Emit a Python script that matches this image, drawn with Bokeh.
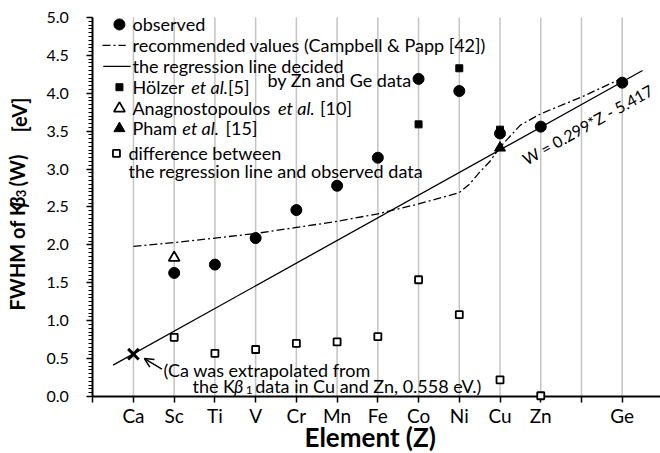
import math

from bokeh.plotting import figure
from bokeh.models import (Label, Arrow, OpenHead, Range1d, FixedTicker, LinearAxis,
                          SingleIntervalTicker, PrintfTickFormatter)
from bokeh.embed import file_html
from bokeh.resources import INLINE

FONT = "Lato"

# ---- data -------------------------------------------------------------
element_z = [20, 21, 22, 23, 24, 25, 26, 27, 28, 29, 30, 31, 32]
element_sym = ["Ca", "Sc", "Ti", "V", "Cr", "Mn", "Fe", "Co", "Ni", "Cu", "Zn", "", "Ge"]

# observed FWHM of K-beta3 (eV)
obs_z = [21, 22, 23, 24, 25, 26, 27, 28, 29, 30, 32]
obs_w = [1.63, 1.74, 2.09, 2.46, 2.78, 3.15, 4.19, 4.03, 3.47, 3.56, 4.14]

# Hölzer et al. [5]
holzer_z = [27, 28, 29]
holzer_w = [3.59, 4.33, 3.52]

# Anagnostopoulos et al. [10]
anag_z = [21]
anag_w = [1.83]

# Pham et al. [15]
pham_z = [29]
pham_w = [3.28]

# difference between regression line and observed data
diff_z = [21, 22, 23, 24, 25, 26, 27, 28, 29, 30]
diff_w = [0.78, 0.57, 0.62, 0.70, 0.72, 0.79, 1.54, 1.08, 0.22, 0.01]

# Ca, extrapolated from K-beta1 data in Cu and Zn
ca_z = [20]
ca_w = [0.558]

# recommended values (Campbell & Papp [42])
rec_z = [20, 21, 22, 23, 24, 25, 26, 27, 28, 28.25, 28.5, 28.75, 29, 29.5, 30, 31, 32]
rec_w = [1.98, 2.03, 2.09, 2.15, 2.23, 2.31, 2.41, 2.54, 2.69, 2.80, 2.96, 3.10, 3.29,
         3.58, 3.73, 3.95, 4.20]

# regression line decided by Zn and Ge data: W = 0.299*Z - 5.417
reg_slope = 0.299
reg_intercept = -5.417
reg_z = [19.5, 32.5]
reg_w = [reg_slope * z + reg_intercept for z in reg_z]

# ---- figure -----------------------------------------------------------
# The frame spans the whole canvas; the axes sit at Z = 19 and W = 0 so that
# the titles and notes around them can be drawn as ordinary labels.
X0, X1 = 16.736, 32.94
Y0, Y1 = -0.752, 5.224
W_PX, H_PX = 660, 453

p = figure(width=W_PX, height=H_PX, output_backend="svg", toolbar_location=None,
           x_range=Range1d(X0, X1), y_range=Range1d(Y0, Y1),
           x_axis_location=None, y_axis_location=None, min_border=0)
p.outline_line_color = None
p.background_fill_color = "white"
p.border_fill_color = "white"
p.grid.visible = False

# x axis: one tick per element, labelled with its symbol
xaxis = LinearAxis(fixed_location=0, bounds=(19, 33))
xaxis.ticker = FixedTicker(ticks=list(range(19, 34)))
overrides = {19: "", 33: ""}
overrides.update({z: s for z, s in zip(element_z, element_sym)})
xaxis.major_label_overrides = overrides
xaxis.major_label_text_font = FONT
xaxis.major_label_text_font_size = "19px"
xaxis.major_label_text_color = "black"
xaxis.major_label_standoff = 2
xaxis.axis_line_width = 2
xaxis.axis_line_color = "black"
xaxis.major_tick_in = 0
xaxis.major_tick_out = 6
xaxis.major_tick_line_width = 1.5
xaxis.minor_tick_line_color = None
p.add_layout(xaxis, "below")

# y axis
yaxis = LinearAxis(fixed_location=19, bounds=(0, 5))
yaxis.ticker = SingleIntervalTicker(interval=0.5, num_minor_ticks=10)
yaxis.formatter = PrintfTickFormatter(format="%.1f")
yaxis.major_label_text_font = FONT
yaxis.major_label_text_font_size = "16px"
yaxis.major_label_text_color = "black"
yaxis.major_label_standoff = 18
yaxis.axis_line_width = 2
yaxis.axis_line_color = "black"
yaxis.major_tick_in = 0
yaxis.major_tick_out = 6
yaxis.major_tick_line_width = 1.5
yaxis.minor_tick_in = 0
yaxis.minor_tick_out = 4
yaxis.minor_tick_line_width = 1.2
yaxis.minor_tick_line_color = "black"
p.add_layout(yaxis, "left")

# vertical grid lines at each element
p.segment(x0=element_z, y0=0, x1=element_z, y1=5, line_color="#c4c4c4", line_width=1.5)

# ---- series -----------------------------------------------------------
p.line(reg_z, reg_w, line_color="black", line_width=1.3)
p.line(rec_z, rec_w, line_color="black", line_width=1.3, line_dash="8 3 2 3")

p.scatter(diff_z, diff_w, marker="square", size=7, fill_color="white",
          line_color="black", line_width=1.8, level="overlay")
p.scatter(obs_z, obs_w, marker="circle", size=11, fill_color="black", line_color="black")
p.scatter(holzer_z, holzer_w, marker="square", size=7, fill_color="black", line_color="black")
p.scatter(anag_z, anag_w, marker="triangle", size=11, fill_color="white",
          line_color="black", line_width=1.8)
p.scatter(pham_z, pham_w, marker="triangle", size=11, fill_color="black", line_color="black")
p.scatter(ca_z, ca_w, marker="x", size=15, line_color="black", line_width=3)


def label(x, y, text, size="18px", style="normal", angle=0.0,
          align="left", baseline="middle"):
    p.add_layout(Label(x=x, y=y, text=text, text_font=FONT, text_font_size=size,
                       text_font_style=style, text_color="black", angle=angle,
                       text_align=align, text_baseline=baseline))


# ---- legend ----------------------------------------------------------
p.scatter([19.656], [4.908], marker="circle", size=11, fill_color="black", line_color="black")
p.line([19.24, 19.81], [4.631, 4.631], line_color="black", line_width=1.3, line_dash="8 3 2 3")
p.line([19.26, 19.93], [4.354, 4.354], line_color="black", line_width=1.3)
p.scatter([19.656], [4.08], marker="square", size=7, fill_color="black", line_color="black")
p.scatter([19.656], [3.80], marker="triangle", size=11, fill_color="white",
          line_color="black", line_width=1.8)
p.scatter([19.656], [3.536], marker="triangle", size=11, fill_color="black", line_color="black")
p.scatter([19.583], [3.206], marker="square", size=7, fill_color="white",
          line_color="black", line_width=1.8)

label(19.976, 4.908, "observed")
label(19.976, 4.631, "recommended values (Campbell & Papp [42])")
label(19.976, 4.354, "the regression line decided")
label(23.29, 4.169, "by Zn and Ge data")
label(19.976, 4.08, "Hölzer")
label(21.42, 4.08, "et al.", style="italic")
label(22.32, 4.08, "[5]")
label(19.976, 3.80, "Anagnostopoulos")
label(23.55, 3.80, "et al.", style="italic")
label(24.58, 3.80, "[10]")
label(19.976, 3.536, "Pham")
label(21.20, 3.536, "et al.", style="italic")
label(22.26, 3.536, "[15]")
label(19.877, 3.206, "difference between")
label(19.877, 2.98, "the regression line and observed data")

# regression formula written along the line
px_per_z = W_PX / (X1 - X0)
px_per_w = H_PX / (Y1 - Y0)
angle = math.atan2(reg_slope * px_per_w, px_per_z)
label(31.15, 3.59, "W = 0.299*Z - 5.417", size="16px", angle=angle, align="center")

# Ca note with arrow
p.add_layout(Arrow(end=OpenHead(size=9, line_width=1.5, line_color="black"),
                   x_start=20.70, y_start=0.36, x_end=20.27, y_end=0.50,
                   line_width=1.5, line_color="black"))
label(20.74, 0.343, "(Ca was extrapolated from")
label(21.45, 0.145, "the K")
label(22.47, 0.145, "β", style="italic")
label(22.76, 0.092, "1", size="12px")
label(22.99, 0.145, "data in Cu and Zn, 0.558 eV.)")

# axis titles
label(25.89, -0.528, "Element  (Z)", size="26px", style="bold", align="center")
label(17.153, 1.135, "FWHM of K", size="20px", style="bold", angle=math.pi / 2)
label(17.153, 2.50, "β", size="20px", style="bold italic", angle=math.pi / 2)
label(17.25, 2.63, "3", size="13px", style="bold", angle=math.pi / 2)
label(17.153, 2.77, "(W)", size="20px", style="bold", angle=math.pi / 2)
label(17.20, 3.483, "[eV]", size="20px", style="bold", angle=math.pi / 2)

open("out.html", "w").write(file_html(p, INLINE))
